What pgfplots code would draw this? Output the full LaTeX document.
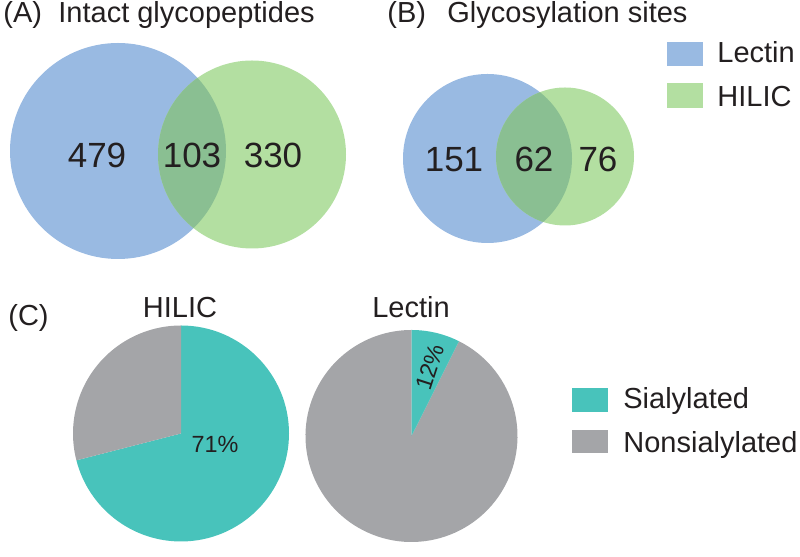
\documentclass[border=0pt]{standalone}
\usepackage{pgfplots}
\pgfplotsset{compat=1.18}
\usepackage{fontspec}
\setmainfont{Liberation Sans}
\definecolor{lblue}{HTML}{99BAE2}
\definecolor{lgreen}{HTML}{B3DFA1}
\definecolor{lover}{HTML}{8ABF92}
\definecolor{scyan}{HTML}{48C3BB}
\definecolor{sgray}{HTML}{A4A5A8}
\definecolor{txt}{HTML}{231F20}
\begin{document}
\begin{tikzpicture}
\begin{axis}[hide axis, x=0.5pt, y=0.5pt, xmin=0, xmax=800, ymin=0, ymax=543,
  clip=false, scale only axis]
\addplot[draw=none, mark=none] coordinates {(0,0) (800,543)};
% ---- (A) Venn
\fill[lblue] (axis cs:118,392) circle[radius=54pt];
\fill[lgreen] (axis cs:252,388.5) circle[radius=47pt];
\begin{scope}
\clip (axis cs:118,392) circle[radius=54pt];
\fill[lover] (axis cs:252,388.5) circle[radius=47pt];
\end{scope}
% ---- (B) Venn
\fill[lblue] (axis cs:487.5,384.5) circle[radius=42.25pt];
\fill[lgreen] (axis cs:565,386.5) circle[radius=34.5pt];
\begin{scope}
\clip (axis cs:487.5,384.5) circle[radius=42.25pt];
\fill[lover] (axis cs:565,386.5) circle[radius=34.5pt];
\end{scope}
% ---- (C) pies
\fill[scyan] (axis cs:181,109.5) -- ++(90:54pt) arc[start angle=90, end angle=-165.6, radius=54pt] -- cycle;
\fill[sgray] (axis cs:181,109.5) -- ++(-165.6:54pt) arc[start angle=-165.6, end angle=-270, radius=54pt] -- cycle;
\fill[sgray] (axis cs:411.5,107) -- ++(63.4:53pt) arc[start angle=63.4, end angle=-270, radius=53pt] -- cycle;
\fill[scyan] (axis cs:411.5,107) -- ++(90:53pt) arc[start angle=90, end angle=63.4, radius=53pt] -- cycle;
% legends
\fill[lblue] (axis cs:667,501) rectangle (axis cs:703,477);
\fill[lgreen] (axis cs:667,460) rectangle (axis cs:703,435);
\fill[scyan] (axis cs:572,155) rectangle (axis cs:608,131);
\fill[sgray] (axis cs:572,113) rectangle (axis cs:608,90);
% texts
\begin{scope}[every node/.style={inner sep=0pt, text=txt, font=\fontsize{14.5}{16}\selectfont}]
\node[anchor=base west] at (axis cs:3,520) {(A)};
\node[anchor=base west] at (axis cs:58,520) {Intact glycopeptides};
\node[anchor=base west] at (axis cs:387,520) {(B)};
\node[anchor=base west] at (axis cs:447,520) {Glycosylation sites};
\node[anchor=base west] at (axis cs:717,480) {Lectin};
\node[anchor=base west] at (axis cs:717,436) {HILIC};
\node[anchor=base west] at (axis cs:8,217) {(C)};
\node[anchor=base] at (axis cs:180,225) {HILIC};
\node[anchor=base] at (axis cs:411,225) {Lectin};
\node[anchor=base west] at (axis cs:623,134) {Sialylated};
\node[anchor=base west] at (axis cs:623,90) {Nonsialylated};
\end{scope}
\begin{scope}[every node/.style={inner sep=0pt, text=txt, font=\fontsize{17.5}{19}\selectfont, anchor=base}]
\node at (axis cs:97,375) {479};
\node at (axis cs:192,375) {103};
\node at (axis cs:273,375) {330};
\node at (axis cs:454,371) {151};
\node at (axis cs:534,371) {62};
\node at (axis cs:598,371) {76};
\end{scope}
\begin{scope}[every node/.style={inner sep=0pt, text=txt, font=\fontsize{11.7}{13}\selectfont}]
\node[anchor=base] at (axis cs:215,90) {71\%};
\node[rotate=72] at (axis cs:430,176) {12\%};
\end{scope}
\end{axis}
\end{tikzpicture}
\end{document}
